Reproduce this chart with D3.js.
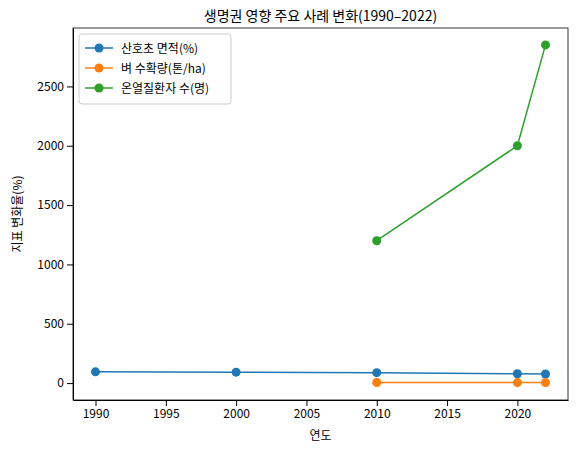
<!DOCTYPE html>
<html><head><meta charset="utf-8">
<script src="https://cdn.jsdelivr.net/npm/d3@7"></script>
<style>body{margin:0;background:#fff}text{font-family:"Noto Sans CJK KR","DejaVu Sans",sans-serif}</style>
</head><body><div id="chart"></div>
<script>
const years = [1990, 2000, 2010, 2020, 2022];
const seriesNames = ["산호초 면적(%)", "벼 수확량(톤/ha)", "온열질환자 수(명)"];
const coral = [95, 92, 88, 79, 77];
const rice = [null, null, 4.5, 4.2, 4.0];
const heat = [null, null, 1200, 2000, 2850];
const colors = ["#1f77b4", "#ff7f0e", "#2ca02c"];
const xTicks = [1990, 1995, 2000, 2005, 2010, 2015, 2020];
const yTicks = [0, 500, 1000, 1500, 2000, 2500];

const W = 577, H = 454;
const margin = {top: 28, right: 9, bottom: 54, left: 73};
const svg = d3.select("#chart").append("svg").attr("width", W).attr("height", H);

const x = d3.scaleLinear().domain([1988.4, 2023.6]).range([margin.left, W - margin.right]);
const y = d3.scaleLinear().domain([-142.5, 2992.5]).range([H - margin.bottom, margin.top]);

svg.append("g").attr("transform", `translate(0,${H - margin.bottom})`)
  .call(d3.axisBottom(x).tickValues(xTicks).tickFormat(d3.format("d")).tickSizeOuter(0))
  .call(g => g.selectAll("text").attr("font-size", 12).attr("fill", "#000"));
svg.append("g").attr("transform", `translate(${margin.left},0)`)
  .call(d3.axisLeft(y).tickValues(yTicks).tickFormat(d3.format("d")).tickSizeOuter(0))
  .call(g => g.selectAll("text").attr("font-size", 12).attr("fill", "#000"));
svg.append("rect").attr("x", margin.left).attr("y", margin.top)
  .attr("width", W - margin.left - margin.right).attr("height", H - margin.top - margin.bottom)
  .attr("fill", "none").attr("stroke", "#000").attr("stroke-width", 0.8);

[coral, rice, heat].forEach((vals, i) => {
  const pts = years.map((yr, j) => ({yr, v: vals[j]})).filter(d => d.v != null);
  svg.append("path").datum(pts).attr("fill", "none").attr("stroke", colors[i]).attr("stroke-width", 1.5)
    .attr("d", d3.line().x(d => x(d.yr)).y(d => y(d.v)));
  svg.selectAll(null).data(pts).join("circle").attr("cx", d => x(d.yr)).attr("cy", d => y(d.v))
    .attr("r", 4.5).attr("fill", colors[i]);
});

svg.append("text").attr("x", (margin.left + W - margin.right) / 2).attr("y", 21)
  .attr("text-anchor", "middle").attr("font-size", 14).text("생명권 영향 주요 사례 변화(1990–2022)");
svg.append("text").attr("x", (margin.left + W - margin.right) / 2).attr("y", 440)
  .attr("text-anchor", "middle").attr("font-size", 12).text("연도");
svg.append("text").attr("transform", `translate(22,${(margin.top + H - margin.bottom) / 2}) rotate(-90)`)
  .attr("text-anchor", "middle").attr("font-size", 12).text("지표 변화율(%)");

const lg = svg.append("g").attr("transform", `translate(${margin.left + 6},${margin.top + 6})`);
lg.append("rect").attr("width", 152).attr("height", 70).attr("rx", 3).attr("fill", "#fff")
  .attr("stroke", "#ccc");
seriesNames.forEach((n, i) => {
  const yy = 14 + i * 20;
  lg.append("line").attr("x1", 6).attr("x2", 34).attr("y1", yy).attr("y2", yy).attr("stroke", colors[i]).attr("stroke-width", 1.5);
  lg.append("circle").attr("cx", 20).attr("cy", yy).attr("r", 4.5).attr("fill", colors[i]);
  lg.append("text").attr("x", 42).attr("y", yy + 4.5).attr("font-size", 12).text(n);
});
</script></body></html>
